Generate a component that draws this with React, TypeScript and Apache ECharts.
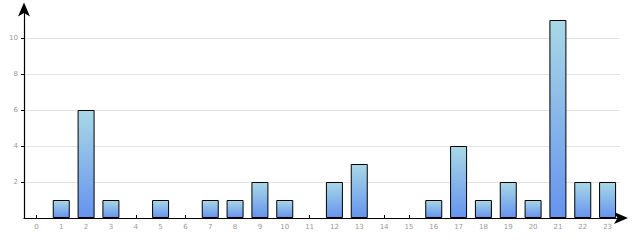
import React, { useEffect, useRef } from "react";
import * as echarts from "echarts";

const categories = ["0","1","2","3","4","5","6","7","8","9","10","11","12","13","14","15","16","17","18","19","20","21","22","23"];
const values = [0,1,6,1,0,1,0,1,1,2,1,0,2,3,0,0,1,4,1,2,1,11,2,2];

export default function App() {
  const ref = useRef<HTMLDivElement>(null);
  useEffect(() => {
    const chart = echarts.init(ref.current!, undefined, { renderer: "svg" });
    chart.setOption({
      animation: false,
      grid: { left: 24, right: 20, top: 5.6, bottom: 22 },
      xAxis: {
        type: "category",
        data: categories,
        axisLine: { show: true, lineStyle: { color: "#000", width: 1.2 }, symbol: ["none", "arrow"], symbolSize: [9, 14], symbolOffset: [0, 8] },
        axisTick: { show: true, alignWithLabel: true, length: 3, inside: true, lineStyle: { color: "#000" } },
        axisLabel: { color: "#999", fontSize: 7, margin: 5, fontFamily: "DejaVu Sans" },
        splitLine: { show: false },
      },
      yAxis: {
        type: "value",
        min: 0,
        max: 11.8,
        interval: 2,
        axisLine: { show: true, lineStyle: { color: "#000", width: 1.2 }, symbol: ["none", "arrow"], symbolSize: [9, 14], symbolOffset: [0, 3] },
        axisTick: { show: true, length: 3, lineStyle: { color: "#000" } },
        axisLabel: { color: "#999", fontSize: 7, margin: 6, showMinLabel: false, showMaxLabel: false, fontFamily: "DejaVu Sans" },
        splitLine: { show: true, showMinLine: false, showMaxLine: false, lineStyle: { color: "#e3e3e3", width: 1 } },
      },
      series: [
        {
          type: "bar",
          data: values.map((v) => (v === 0 ? "-" : v)),
          barWidth: 17,
          itemStyle: {
            borderColor: "#000",
            borderWidth: 1,
            color: new echarts.graphic.LinearGradient(0, 0, 0, 1, [
              { offset: 0, color: "#a8d8e6" },
              { offset: 1, color: "#6693ee" },
            ]),
          },
        },
      ],
    });
    return () => chart.dispose();
  }, []);
  return <div ref={ref} style={{ width: 640, height: 240, position: "absolute", left: 0, top: 0 }} />;
}
